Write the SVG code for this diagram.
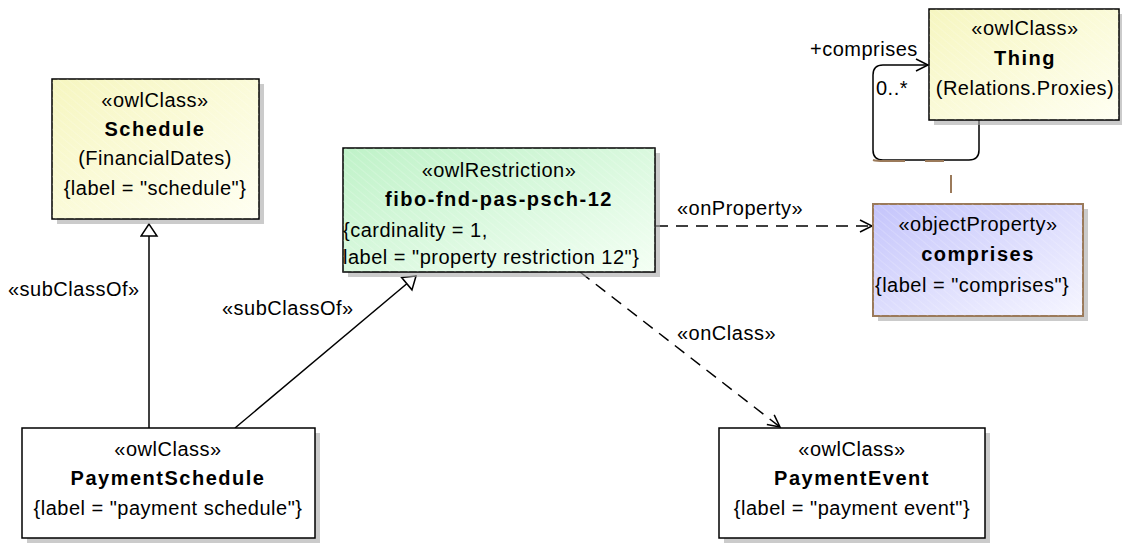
<svg xmlns="http://www.w3.org/2000/svg" width="1122" height="543" viewBox="0 0 1122 543">
<defs>
<linearGradient id="gy" x1="0" y1="0" x2="1" y2="1"><stop offset="0" stop-color="#f6f6c0"/><stop offset="1" stop-color="#fffff2"/></linearGradient>
<linearGradient id="gg" x1="0" y1="0" x2="1" y2="1"><stop offset="0" stop-color="#bff2c8"/><stop offset="1" stop-color="#f4fff4"/></linearGradient>
<linearGradient id="gp" x1="0" y1="0" x2="1" y2="1"><stop offset="0" stop-color="#c4c4fb"/><stop offset="1" stop-color="#f6f6ff"/></linearGradient>
<pattern id="hatch" width="6" height="6" patternUnits="userSpaceOnUse" patternTransform="rotate(-50)"><line x1="0" y1="0" x2="0" y2="6" stroke="#ffffff" stroke-opacity="0.35" stroke-width="1"/></pattern>
<marker id="tri" markerWidth="18" markerHeight="20" refX="14" refY="9" orient="auto" markerUnits="userSpaceOnUse"><path d="M14,9 L2,1 L2,17 Z" fill="#fff" stroke="#000" stroke-width="1.5"/></marker>
<marker id="open" markerWidth="16" markerHeight="16" refX="13" refY="7" orient="auto" markerUnits="userSpaceOnUse"><path d="M1,1 L13,7 L1,13" fill="none" stroke="#000" stroke-width="1.5"/></marker>
</defs>
<style>
.shadow{fill:#a8a8a8;opacity:0.6}
.box{stroke:#000;stroke-width:1.5}
.t{font-family:"Liberation Sans",Arial,sans-serif;font-size:20px;letter-spacing:0.5px;fill:#000}
.c{text-anchor:middle}
.b{font-weight:bold;letter-spacing:1.5px}
.edge{fill:none;stroke:#000;stroke-width:1.5}
.dash{stroke-dasharray:12,8}
.brown{stroke:#9b7a5a;stroke-width:2;fill:none}
</style>
<rect width="1122" height="543" fill="#fff"/>
<g id="edges">
<line class="edge" x1="149" y1="428" x2="149" y2="224" marker-end="url(#tri)"/>
<line class="edge" x1="235" y1="428" x2="416" y2="276" marker-end="url(#tri)"/>
<line class="edge dash" x1="656" y1="226" x2="872" y2="226" marker-end="url(#open)"/>
<line class="edge dash" x1="580" y1="272" x2="780" y2="427" marker-end="url(#open)"/>
<path class="edge" d="M979,120 V150 Q979,160 969,160 H883 Q873,160 873,150 V75 Q873,65 883,65 H928" marker-end="url(#open)"/>
<path class="brown" d="M873,160 Q876,161 885,161 H905 M925,161 H944"/>
<line class="brown" x1="951" y1="175" x2="951" y2="193"/>
<text class="t" x="8" y="296">«subClassOf»</text>
<text class="t" x="222" y="315">«subClassOf»</text>
<text class="t" x="677" y="215">«onProperty»</text>
<text class="t" x="677" y="340">«onClass»</text>
<text class="t" x="810" y="56">+comprises</text>
<text class="t" x="876" y="95">0..*</text>
</g>
<g id="schedule">
<rect class="shadow" x="57" y="84" width="207" height="140"/>
<rect class="box" x="52" y="79" width="207" height="140" fill="url(#gy)"/>
<rect x="52" y="79" width="207" height="140" fill="url(#hatch)"/>
<text class="t c" x="155" y="107">«owlClass»</text>
<text class="t c b" x="155" y="136">Schedule</text>
<text class="t c" x="155" y="165">(FinancialDates)</text>
<text class="t c" x="155" y="195">{label = "schedule"}</text>
</g>
<g id="restriction">
<rect class="shadow" x="348" y="153" width="312" height="124"/>
<rect class="box" x="343" y="148" width="312" height="124" fill="url(#gg)"/>
<rect x="343" y="148" width="312" height="124" fill="url(#hatch)"/>
<text class="t c" x="499" y="177">«owlRestriction»</text>
<text class="t c b" x="499" y="206">fibo-fnd-pas-psch-12</text>
<text class="t" x="343" y="237">{cardinality = 1,</text>
<text class="t" x="343" y="264">label = "property restriction 12"}</text>
</g>
<g id="thing">
<rect class="shadow" x="934" y="14" width="190" height="111"/>
<rect class="box" x="929" y="9" width="190" height="111" fill="url(#gy)"/>
<rect x="929" y="9" width="190" height="111" fill="url(#hatch)"/>
<text class="t c" x="1025" y="35">«owlClass»</text>
<text class="t c b" x="1025" y="65">Thing</text>
<text class="t c" x="1025" y="95">(Relations.Proxies)</text>
</g>
<g id="comprises">
<rect class="shadow" x="878" y="209" width="210" height="112"/>
<rect x="873" y="204" width="210" height="112" fill="url(#gp)" stroke="#9b7a5a" stroke-width="2"/>
<rect x="873" y="204" width="210" height="112" fill="url(#hatch)"/>
<text class="t c" x="978" y="231">«objectProperty»</text>
<text class="t c b" x="978" y="261">comprises</text>
<text class="t" x="875" y="292">{label = "comprises"}</text>
</g>
<g id="paymentschedule">
<rect class="shadow" x="27" y="433" width="293" height="110"/>
<rect class="box" x="22" y="428" width="293" height="110" fill="#fff"/>
<text class="t c" x="168" y="456">«owlClass»</text>
<text class="t c b" x="168" y="485">PaymentSchedule</text>
<text class="t c" x="168" y="515">{label = "payment schedule"}</text>
</g>
<g id="paymentevent">
<rect class="shadow" x="724" y="433" width="266" height="110"/>
<rect class="box" x="719" y="428" width="266" height="110" fill="#fff"/>
<text class="t c" x="852" y="456">«owlClass»</text>
<text class="t c b" x="852" y="485">PaymentEvent</text>
<text class="t c" x="852" y="515">{label = "payment event"}</text>
</g>
</svg>
